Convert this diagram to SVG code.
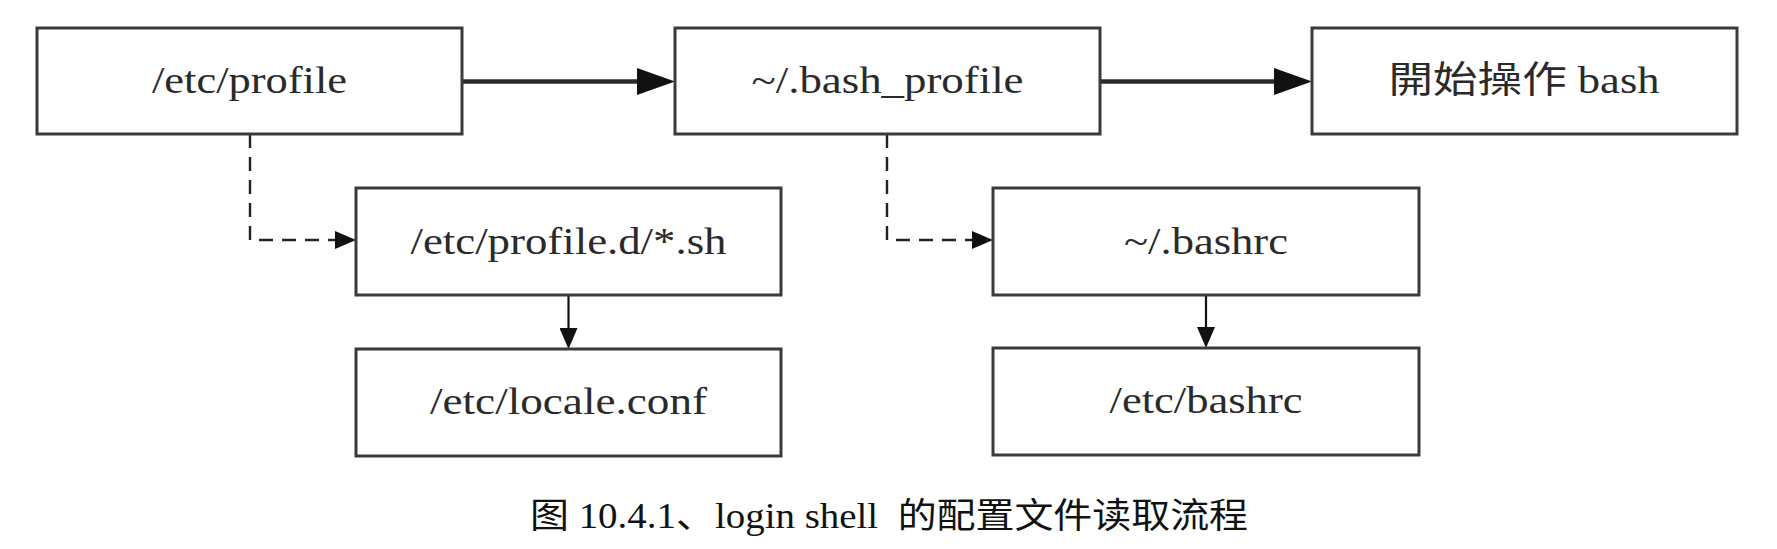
<svg xmlns="http://www.w3.org/2000/svg" width="1777" height="549" viewBox="0 0 1777 549">
<style>
.box{fill:#ffffff;stroke:#3a3a3a;stroke-width:3}
.lbl{font-family:'Liberation Serif',serif;font-size:37px;fill:#2a2a2a;text-anchor:middle}
.cjk{font-family:'Liberation Serif','Noto Sans CJK TC',serif;font-size:37px;fill:#2a2a2a;text-anchor:middle}
.cap{font-family:'Liberation Serif','Noto Sans CJK SC',serif;font-size:35px;fill:#111111}
.thick{stroke:#2a2a2a;stroke-width:4.5;fill:none}
.thin{stroke:#111111;stroke-width:2.2;fill:none}
.dash{stroke:#222222;stroke-width:2.4;fill:none;stroke-dasharray:14 9}
</style>
<defs>
<marker id="bigArrow" markerUnits="userSpaceOnUse" viewBox="0 0 38 27" refX="0" refY="13.5" markerWidth="38" markerHeight="27" orient="auto">
<path d="M0,0 L38,13.5 L0,27 Z" fill="#111111"/>
</marker>
<marker id="smallArrow" markerUnits="userSpaceOnUse" viewBox="0 0 21 18" refX="0" refY="9" markerWidth="21" markerHeight="18" orient="auto">
<path d="M0,0 L21,9 L0,18 Z" fill="#111111"/>
</marker>
</defs>
<g id="connectors">
<line class="thick" x1="462" y1="81.5" x2="637" y2="81.5" marker-end="url(#bigArrow)"/>
<line class="thick" x1="1100" y1="81.5" x2="1274" y2="81.5" marker-end="url(#bigArrow)"/>
<polyline class="dash" points="250,134 250,240 335,240" marker-end="url(#smallArrow)"/>
<polyline class="dash" points="887,134 887,240 972,240" marker-end="url(#smallArrow)"/>
<line class="thin" x1="568.5" y1="295" x2="568.5" y2="328" marker-end="url(#smallArrow)"/>
<line class="thin" x1="1206" y1="295" x2="1206" y2="327" marker-end="url(#smallArrow)"/>
</g>
<g id="node-etc-profile">
<rect class="box" x="37" y="28" width="425" height="106"/>
<text class="lbl" x="249.5" y="93" textLength="195" lengthAdjust="spacingAndGlyphs">/etc/profile</text>
</g>
<g id="node-bash-profile">
<rect class="box" x="675" y="28" width="425" height="106"/>
<text class="lbl" x="887.5" y="93" textLength="272" lengthAdjust="spacingAndGlyphs">~/.bash_profile</text>
</g>
<g id="node-start-bash">
<rect class="box" x="1312" y="28" width="425" height="106"/>
<text class="cjk" x="1524" y="93" textLength="271" lengthAdjust="spacingAndGlyphs">開始操作 bash</text>
</g>
<g id="node-profile-d">
<rect class="box" x="356" y="188" width="425" height="107"/>
<text class="lbl" x="568.5" y="253.5" textLength="316" lengthAdjust="spacingAndGlyphs">/etc/profile.d/*.sh</text>
</g>
<g id="node-bashrc-home">
<rect class="box" x="993" y="188" width="426" height="107"/>
<text class="lbl" x="1206" y="253.5" textLength="164" lengthAdjust="spacingAndGlyphs">~/.bashrc</text>
</g>
<g id="node-locale-conf">
<rect class="box" x="356" y="349" width="425" height="107"/>
<text class="lbl" x="568.5" y="414" textLength="277" lengthAdjust="spacingAndGlyphs">/etc/locale.conf</text>
</g>
<g id="node-etc-bashrc">
<rect class="box" x="993" y="348" width="426" height="107"/>
<text class="lbl" x="1206" y="413" textLength="193" lengthAdjust="spacingAndGlyphs">/etc/bashrc</text>
</g>
<g id="caption">
<text class="cap" x="530" y="528" textLength="718" lengthAdjust="spacingAndGlyphs" xml:space="preserve">图 10.4.1、login shell  的配置文件读取流程</text>
</g>
</svg>
